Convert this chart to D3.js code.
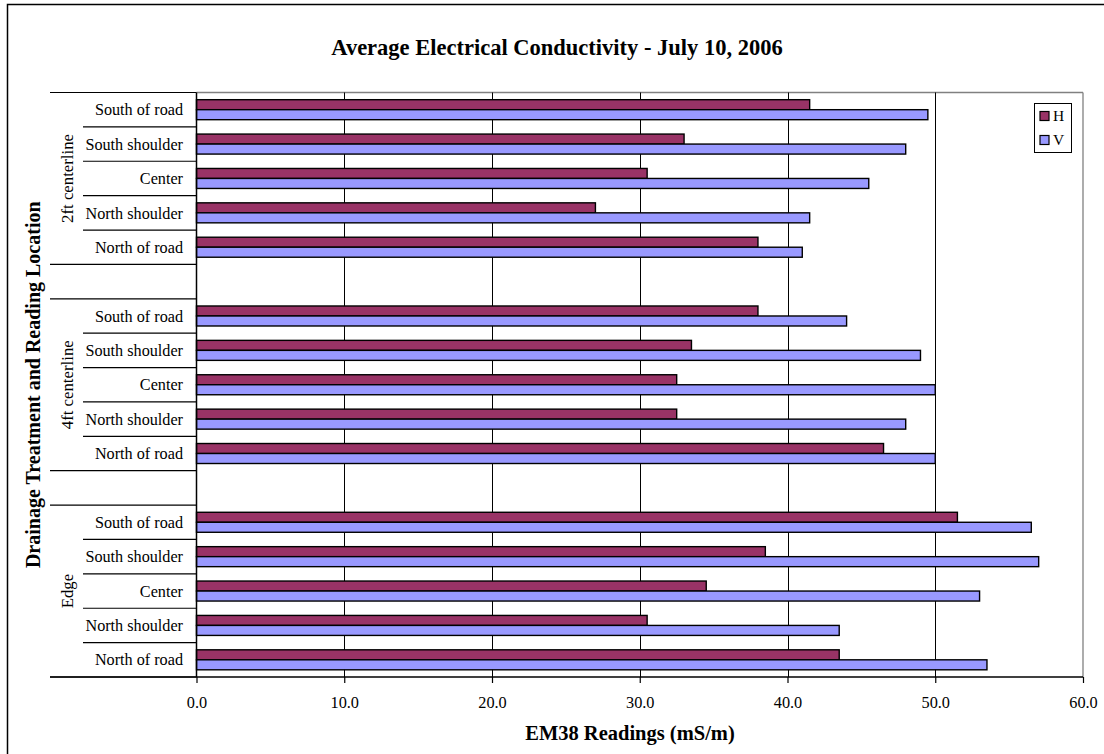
<!DOCTYPE html>
<html>
<head>
<meta charset="utf-8">
<script src="https://cdn.jsdelivr.net/npm/d3@7"></script>
<style>
  html, body { margin: 0; padding: 0; background: #fff; }
  svg { display: block; font-family: "Liberation Serif", "Times New Roman", serif; }
</style>
</head>
<body>
<svg id="chart" width="1104" height="754"></svg>
<script>
// ---- Data ----
const groups = ["2ft centerline", "4ft centerline", "Edge"];
const locations = ["South of road", "South shoulder", "Center", "North shoulder", "North of road"];
const seriesNames = ["H", "V"];
const seriesColors = ["#993366", "#9999FF"];
// values per group, in the order of `locations`
const valuesH_2ft  = [41.5, 33.0, 30.5, 27.0, 38.0];
const valuesV_2ft  = [49.5, 48.0, 45.5, 41.5, 41.0];
const valuesH_4ft  = [38.0, 33.5, 32.5, 32.5, 46.5];
const valuesV_4ft  = [44.0, 49.0, 50.0, 48.0, 50.0];
const valuesH_edge = [51.5, 38.5, 34.5, 30.5, 43.5];
const valuesV_edge = [56.5, 57.0, 53.0, 43.5, 53.5];
const xTicks = [0, 10, 20, 30, 40, 50, 60];

const groupValues = [
  [valuesH_2ft, valuesV_2ft],
  [valuesH_4ft, valuesV_4ft],
  [valuesH_edge, valuesV_edge]
];

// Build row list (with blank rows between groups)
const rows = [];
groups.forEach((g, gi) => {
  if (gi > 0) rows.push({ key: "blank" + gi, blank: true });
  locations.forEach((loc, li) => {
    rows.push({ key: g + "|" + loc, group: g, gi, label: loc,
      values: seriesNames.map((s, si) => ({ s, si, v: groupValues[gi][si][li] })) });
  });
});

const svg = d3.select("#chart");

// outer border
svg.append("rect").attr("x", 7.5).attr("y", 4.5).attr("width", 1110).attr("height", 760)
  .attr("fill", "none").attr("stroke", "#000").attr("stroke-width", 1.5);

const plot = { left: 196.5, right: 1083, top: 92.5, bottom: 677 };

const x = d3.scaleLinear().domain([0, 60]).range([plot.left, plot.right]);
const y = d3.scaleBand().domain(rows.map(r => r.key)).range([plot.top, plot.bottom]).paddingInner(0).paddingOuter(0);
const barH = 10;

// plot area border (top, right)
svg.append("line").attr("x1", plot.left).attr("x2", plot.right).attr("y1", plot.top).attr("y2", plot.top)
  .attr("stroke", "#808080").attr("stroke-width", 1.3);
svg.append("line").attr("x1", plot.right).attr("x2", plot.right).attr("y1", plot.top).attr("y2", plot.bottom)
  .attr("stroke", "#808080").attr("stroke-width", 1.3);

// gridlines
svg.append("g").selectAll("line").data(xTicks.slice(1, -1)).join("line")
  .attr("x1", d => Math.round(x(d)) + 0.5).attr("x2", d => Math.round(x(d)) + 0.5)
  .attr("y1", plot.top).attr("y2", plot.bottom)
  .attr("stroke", "#000").attr("stroke-width", 1);

// bars
const rowG = svg.append("g").selectAll("g").data(rows.filter(r => !r.blank)).join("g");
rowG.selectAll("rect").data(r => r.values.map(v => ({ ...v, key: r.key }))).join("rect")
  .attr("x", x(0))
  .attr("y", d => y(d.key) + y.bandwidth() / 2 - barH + d.si * barH)
  .attr("width", d => x(d.v) - x(0))
  .attr("height", barH)
  .attr("fill", d => seriesColors[d.si])
  .attr("stroke", "#000").attr("stroke-width", 1.4);

// x axis
const xAxis = d3.axisBottom(x).tickValues(xTicks).tickFormat(d3.format(".1f")).tickSize(6).tickPadding(13);
const gx = svg.append("g").attr("transform", `translate(0,${plot.bottom})`).call(xAxis);
gx.select(".domain").remove();
gx.selectAll(".tick line").attr("stroke", "#000").attr("stroke-width", 1.2);
gx.selectAll(".tick text").attr("font-size", 16.3).attr("fill", "#000")
  .attr("font-family", "Liberation Serif, Times New Roman, serif");
// bottom axis line (extends under category labels)
svg.append("line").attr("x1", 50).attr("x2", plot.right).attr("y1", plot.bottom).attr("y2", plot.bottom)
  .attr("stroke", "#000").attr("stroke-width", 1.5);
// left axis line
svg.append("line").attr("x1", plot.left).attr("x2", plot.left).attr("y1", plot.top).attr("y2", plot.bottom)
  .attr("stroke", "#000").attr("stroke-width", 1.5);

// category labels
svg.append("g").selectAll("text").data(rows.filter(r => !r.blank)).join("text")
  .attr("x", 183).attr("y", r => y(r.key) + y.bandwidth() / 2)
  .attr("dy", "0.35em").attr("text-anchor", "end").attr("font-size", 16.2).attr("fill", "#000")
  .text(r => r.label);

// separators between categories (short) and between groups (long)
const sepG = svg.append("g");
groups.forEach((g, gi) => {
  const keys = locations.map(l => g + "|" + l);
  const gTop = y(keys[0]);
  const gBot = y(keys[keys.length - 1]) + y.bandwidth();
  keys.slice(1).forEach(k => {
    sepG.append("line").attr("x1", 83).attr("x2", plot.left).attr("y1", y(k)).attr("y2", y(k))
      .attr("stroke", "#000").attr("stroke-width", 1.2);
  });
  [gTop, gBot].forEach(yy => {
    sepG.append("line").attr("x1", 50).attr("x2", plot.left).attr("y1", yy).attr("y2", yy)
      .attr("stroke", "#000").attr("stroke-width", 1.2);
  });
  const cy = (gTop + gBot) / 2;
  svg.append("text").attr("transform", `translate(67,${cy}) rotate(-90)`)
    .attr("text-anchor", "middle").attr("dy", "0.35em").attr("font-size", 16.8).attr("fill", "#000")
    .text(g);
});

// title
svg.append("text").attr("x", 557).attr("y", 55).attr("text-anchor", "middle")
  .attr("font-size", 22.5).attr("font-weight", "bold").attr("fill", "#000")
  .text("Average Electrical Conductivity - July 10, 2006");

// x title
svg.append("text").attr("x", 630).attr("y", 740).attr("text-anchor", "middle")
  .attr("font-size", 20.5).attr("font-weight", "bold").attr("fill", "#000")
  .text("EM38 Readings (mS/m)");

// y title
svg.append("text").attr("transform", `translate(33,${(plot.top + plot.bottom) / 2}) rotate(-90)`)
  .attr("text-anchor", "middle").attr("dy", "0.35em")
  .attr("font-size", 20).attr("font-weight", "bold").attr("fill", "#000")
  .text("Drainage Treatment and Reading Location");

// legend
const lg = svg.append("g");
lg.append("rect").attr("x", 1034.5).attr("y", 103.5).attr("width", 37).attr("height", 49)
  .attr("fill", "#fff").attr("stroke", "#000").attr("stroke-width", 1);
seriesNames.forEach((s, i) => {
  const yy = 116 + i * 24;
  lg.append("rect").attr("x", 1040).attr("y", yy - 4.5).attr("width", 9).attr("height", 9)
    .attr("fill", seriesColors[i]).attr("stroke", "#000").attr("stroke-width", 1.2);
  lg.append("text").attr("x", 1053).attr("y", yy).attr("dy", "0.35em")
    .attr("font-size", 15.5).attr("fill", "#000").text(s);
});
</script>
</body>
</html>
